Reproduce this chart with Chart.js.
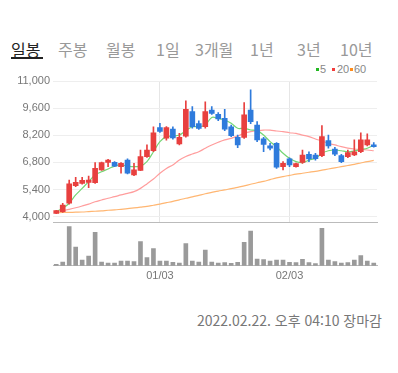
<!DOCTYPE html>
<html lang="ko">
<head>
<meta charset="utf-8">
<script src="https://cdn.jsdelivr.net/npm/chart.js@4.4.1/dist/chart.umd.min.js"></script>
<style>
    html, body { margin: 0; padding: 0; background: #fff; }
    #wrap { position: relative; width: 398px; height: 373px; overflow: hidden; font-family: "Noto Sans CJK KR", "Noto Sans", sans-serif; }
    .tab { position: absolute; top: 40px; font-size: 16px; line-height: 18px; color: #999; white-space: nowrap; }
    .tab.on { color: #222; }
    #tabline { position: absolute; left: 11px; top: 57px; width: 32px; height: 1.5px; background: #222; }
    .lg { position: absolute; top: 63px; font: 11px/12px "Liberation Sans", Arial, sans-serif; color: #888; }
    .sq { position: absolute; top: 67.5px; width: 3px; height: 3px; }
    #stamp { position: absolute; right: 16px; top: 312px; font-size: 14px; line-height: 16px; color: #777; white-space: nowrap; }
    canvas { position: absolute; left: 0; }
</style>
</head>
<body>
<div id="wrap">
    <span class="tab on" style="left:11px">일봉</span>
    <span class="tab" style="left:58px">주봉</span>
    <span class="tab" style="left:106px">월봉</span>
    <span class="tab" style="left:156px">1일</span>
    <span class="tab" style="left:195px">3개월</span>
    <span class="tab" style="left:250px">1년</span>
    <span class="tab" style="left:297px">3년</span>
    <span class="tab" style="left:340px">10년</span>
    <div id="tabline"></div>

    <div class="sq" style="left:316px;background:#22b822"></div><span class="lg" style="left:320px">5</span>
    <div class="sq" style="left:332px;background:#f33c3c"></div><span class="lg" style="left:337px">20</span>
    <div class="sq" style="left:350px;background:#ff8c1a"></div><span class="lg" style="left:354px">60</span>

    <canvas id="price-chart" width="398" height="233" style="top:0"></canvas>
    <canvas id="volume-chart" width="398" height="70" style="top:220px"></canvas>

    <div id="stamp">2022.02.22. 오후 04:10 장마감</div>
</div>

<script>
const dates = ['12/09', '12/10', '12/13', '12/14', '12/15', '12/16', '12/17', '12/20', '12/21', '12/22',
    '12/23', '12/24', '12/27', '12/28', '12/29', '12/30', '01/03', '01/04', '01/05', '01/06',
    '01/07', '01/10', '01/11', '01/12', '01/13', '01/14', '01/17', '01/18', '01/19', '01/20',
    '01/21', '01/24', '01/25', '01/26', '01/27', '01/28', '02/03', '02/04', '02/07', '02/08',
    '02/09', '02/10', '02/11', '02/14', '02/15', '02/16', '02/17', '02/18', '02/21', '02/22'];

const openPrice = [4170, 4260, 4690, 5600, 5720, 5770, 5750, 6410, 6800, 6800,
    6580, 6920, 6150, 6390, 7100, 7400, 8590, 8050, 8520, 7750,
    8150, 9420, 8800, 8640, 9500, 9280, 9070, 8640, 8090, 8090,
    9500, 8730, 8010, 7650, 7780, 6580, 6980, 6580, 6800, 7220,
    7180, 7150, 7920, 7490, 7150, 7100, 7180, 7350, 7700, 7700];
const highPrice = [4330, 4690, 5890, 6030, 6030, 6100, 6790, 6820, 6960, 6840,
    6790, 6980, 6750, 7440, 7700, 8640, 8810, 8650, 8640, 8300,
    9980, 9680, 8950, 9930, 9680, 9370, 9540, 8730, 8210, 9880,
    10540, 8900, 8090, 7780, 7820, 6840, 7040, 6760, 7440, 7350,
    7270, 8700, 8210, 7580, 7220, 7440, 7960, 8330, 8270, 7820];
const lowPrice = [4160, 4220, 4650, 5550, 5670, 5500, 5720, 6390, 6580, 6580,
    6240, 6200, 6120, 6370, 7060, 7350, 8350, 7950, 8000, 7700,
    8100, 8560, 8500, 8560, 9280, 8950, 8440, 8130, 7560, 8040,
    8800, 7870, 7350, 7440, 6490, 6410, 6580, 6550, 6750, 6840,
    6920, 7100, 7530, 7150, 6790, 7040, 7150, 7300, 7650, 7580];
const closePrice = [4310, 4600, 5690, 5770, 5870, 5890, 6490, 6790, 6920, 6610,
    6750, 6240, 6410, 7100, 7440, 8330, 8400, 8600, 8060, 8090,
    9540, 8640, 8550, 9420, 9330, 9040, 8520, 8180, 7700, 9250,
    8900, 7960, 7730, 7530, 6550, 6750, 6670, 6740, 7180, 6980,
    6990, 8130, 7650, 7220, 6840, 7300, 7350, 7960, 7960, 7610];

const ma5 = [4260, 4430, 4690, 5120, 5460, 5810, 6150, 6320, 6460, 6610,
    6670, 6610, 6580, 6610, 6840, 7350, 7870, 8130, 8160, 8210,
    8440, 8640, 8640, 8730, 9120, 9070, 8990, 8820, 8560, 8560,
    8470, 8440, 8210, 7870, 7610, 7270, 7010, 6840, 6790, 6920,
    7010, 7270, 7400, 7440, 7400, 7350, 7390, 7470, 7530, 7700];
const ma20 = [4260, 4310, 4380, 4460, 4550, 4650, 4770, 4860, 4950, 5030,
    5120, 5200, 5290, 5460, 5690, 5940, 6240, 6490, 6670, 6920,
    7100, 7230, 7350, 7530, 7700, 7840, 7960, 8040, 8160, 8300,
    8390, 8440, 8470, 8460, 8420, 8390, 8330, 8300, 8210, 8130,
    8010, 7900, 7780, 7700, 7610, 7540, 7490, 7470, 7440, 7400];
const ma60 = [4210, 4215, 4220, 4230, 4240, 4260, 4280, 4300, 4330, 4350,
    4380, 4410, 4450, 4490, 4530, 4590, 4650, 4720, 4790, 4870,
    4950, 5020, 5100, 5180, 5250, 5320, 5380, 5450, 5510, 5590,
    5670, 5750, 5820, 5910, 6000, 6070, 6130, 6190, 6240, 6290,
    6340, 6400, 6460, 6520, 6580, 6640, 6700, 6770, 6840, 6900];

const volume = [40000, 110000, 1170000, 560000, 170000, 290000, 1000000, 110000, 80000, 80000,
    140000, 140000, 120000, 720000, 240000, 510000, 140000, 140000, 100000, 80000,
    660000, 140000, 110000, 470000, 110000, 80000, 90000, 70000, 100000, 700000,
    1040000, 200000, 180000, 140000, 170000, 170000, 100000, 90000, 190000, 90000,
    60000, 1120000, 170000, 120000, 80000, 90000, 170000, 300000, 140000, 80000];

const priceTicks = [4000, 5400, 6800, 8200, 9600, 11000];
const dateTicks = ['01/03', '02/03'];

var upColor = '#e8403f';
var downColor = '#2f7bdc';

var candleColors = closePrice.map(function (c, i) {
    return c >= openPrice[i] ? upColor : downColor;
});
var bodies = openPrice.map(function (o, i) { return [o, closePrice[i]]; });
var wicks = lowPrice.map(function (l, i) { return [l, highPrice[i]]; });

Chart.defaults.font.family = '"Liberation Sans", Arial, sans-serif';
Chart.defaults.font.size = 11;
Chart.defaults.color = '#777';

function maLine(label, data, color) {
    return {
        type: 'line', label: label, data: data,
        borderColor: color, borderWidth: 1.2,
        pointRadius: 0, tension: 0.35, order: 1
    };
}

// price chart: candles + moving averages
new Chart(document.getElementById('price-chart'), {
    type: 'bar',
    data: {
        labels: dates,
        datasets: [
            {label: 'wick', data: wicks, backgroundColor: candleColors, barThickness: 1, grouped: false, order: 0},
            {label: 'body', data: bodies, backgroundColor: candleColors, barThickness: 5, minBarLength: 1, grouped: false, order: 0},
            maLine('5', ma5, '#74d674'),
            maLine('20', ma20, '#ff9d9d'),
            maLine('60', ma60, '#ffb672')
        ]
    },
    options: {
        responsive: false, animation: false,
        // y tick labels already reserve 9.6px below the plot
        layout: {padding: {top: 81, right: 21, bottom: 10.3, left: 0}},
        plugins: {legend: {display: false}, tooltip: {enabled: false}},
        scales: {
            x: {
                grid: {
                    offset: false, drawTicks: false,
                    color: function (ctx) {
                        return dateTicks.indexOf(dates[ctx.index]) >= 0 ? '#e6e6e6' : 'rgba(0,0,0,0)';
                    }
                },
                ticks: {display: false, autoSkip: false},
                border: {color: '#bbb'}
            },
            y: {
                min: 3688, max: 11000,
                afterBuildTicks: function (scale) {
                    scale.ticks = priceTicks.map(function (v) { return {value: v}; });
                },
                afterFit: function (scale) { scale.width = 53; },
                grid: {color: '#eee', drawTicks: false},
                border: {display: false},
                ticks: {
                    padding: 3,
                    callback: function (v) { return v.toLocaleString('en-US'); }
                }
            }
        }
    }
});

// volume chart
new Chart(document.getElementById('volume-chart'), {
    type: 'bar',
    data: {
        labels: dates,
        datasets: [{data: volume, backgroundColor: '#9a9a9a', barThickness: 4}]
    },
    options: {
        responsive: false, animation: false,
        layout: {padding: {top: 2.7, right: 21, bottom: 4.3, left: 53}},
        plugins: {legend: {display: false}, tooltip: {enabled: false}},
        scales: {
            x: {
                afterFit: function (scale) { scale.height = 20; },
                grid: {display: false, drawTicks: false},
                border: {color: '#bbb'},
                ticks: {
                    autoSkip: false, maxRotation: 0, padding: 4,
                    callback: function (v, i) {
                        return dateTicks.indexOf(dates[i]) >= 0 ? dates[i] : '';
                    }
                }
            },
            y: {display: false, min: 0, max: 1290000}
        }
    }
});
</script>
</body>
</html>
